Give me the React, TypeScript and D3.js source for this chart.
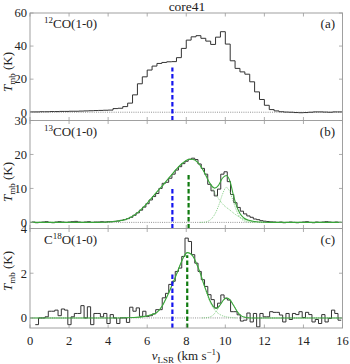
import * as d3 from "d3";

const W = 350;
const H = 364;
const FONT = "'Liberation Serif', 'DejaVu Serif', serif";

const xTicks = [0, 2, 4, 6, 8, 10, 12, 14, 16];

// 12CO(1-0): 0.25 km/s channels starting at 0
const co12Start = 0;
const co12Width = 0.25;
const co12T = [
  0.2, 0.2, 0.3, 0.3, 0.4, 0.4, 0.5, 0.5, 0.6, 0.6, 0.7, 0.8, 0.9, 1.0, 1.1, 1.2,
  1.3, 2.2, 2.4, 3.4, 5.5, 10.5, 17.2, 21.4, 25.5, 27.9, 29.5, 30.1, 30.5, 30.6, 33.0, 38.6,
  43.6, 45.6, 46.3, 44.7, 43.0, 41.0, 45.4, 48.7, 41.2, 31.1, 26.5, 24.4, 23.0, 18.4, 12.3, 7.7,
  4.2, 1.6, 0.8, 0.3, 0.1, 0.0, -0.2, -0.3, -0.2, 0.0, 0.2, 0.2, 0.1, 0.0, 0.2, 0.2,
];

// 13CO(1-0): ~0.166 km/s channels
const co13Start = 0.1;
const co13Width = 1 / 6;
const co13T = [
  0.1, -0.1, 0.0, 0.1, 0.2, 0.0, -0.1, 0.1, 0.2, 0.1, 0.0, 0.1, 0.2, 0.3, 0.1, 0.0,
  0.1, 0.2, 0.0, 0.1, 0.1, 0.2, 0.1, 0.2, 0.2, 0.3, 0.4, 0.6, 0.8, 1.1, 1.5, 2.1,
  2.8, 3.6, 4.5, 5.5, 6.6, 7.6, 8.5, 10.0, 11.5, 11.8, 13.0, 14.2, 15.4, 16.4, 17.3, 18.0,
  18.6, 18.9, 18.5, 17.2, 15.9, 14.2, 11.2, 9.3, 7.8, 9.8, 14.2, 14.9, 12.0, 8.2, 5.8, 4.4,
  3.3, 2.5, 1.9, 1.5, 1.0, 0.8, 0.5, 0.35, 0.25, 0.15, 0.1, 0.0, 0.1, -0.1, 0.0, 0.1,
  0.0, -0.1, 0.0, 0.1, 0.2, 0.0, -0.1, 0.1, 0.0, 0.1, 0.2, 0.1, 0.0, 0.1, 0.0,
];

// C18O(1-0): ~0.166 km/s channels
const c18oStart = 0.27;
const c18oWidth = 1 / 6;
const c18oT = [
  -0.3, 0.0, 0.0, 0.05, 0.3, 0.3, 0.35, 0.1, 0.4, 0.35, -0.3, 0.05, 0.2, 0.2, 0.55, 0.0,
  0.5, -0.3, 0.2, 0.2, 0.05, 0.2, -0.25, 0.15, 0.0, -0.25, 0.0, 0.0, -0.2, 0.48, 0.3, 0.45,
  0.07, 0.3, 0.07, 0.1, 0.18, 0.37, 0.37, 0.9, 1.1, 1.5, 1.64, 2.08, 2.23, 2.75, 3.57, 3.42,
  2.83, 2.45, 2.08, 1.71, 1.41, 1.04, 0.82, 0.45, 0.66, 1.03, 0.88, 0.8, 0.28, 0.28, 0.14, -0.14,
  -0.1, 0.22, -0.18, 0.2, -0.4, 0.2, 0.05, 0.05, 0.28, 0.25, 0.25, 0.13, -0.18, 0.2, -0.07, 0.2,
  0.15, 0.28, 0.02, 0.25, 0.15, -0.18, -0.07, -0.25, 0.15, -0.18, -0.02, 0.35, 0.2, -0.1,
];

// fitted profiles, [v, T]
const co13Fit: [number, number][] = [
  [0, 0], [3.5, 0], [4.0, 0.1], [4.5, 0.4], [5.0, 1.1], [5.5, 2.8], [5.8, 4.4], [6.14, 6.6],
  [6.5, 9.0], [6.8, 10.9], [7.0, 12.3], [7.25, 14.0], [7.5, 15.7], [7.8, 17.4], [8.1, 18.5],
  [8.3, 18.6], [8.6, 17.6], [8.96, 14.4], [9.2, 11.6], [9.45, 10.1], [9.65, 10.9], [9.85, 13.0],
  [10.05, 13.8], [10.25, 11.9], [10.41, 8.1], [10.55, 5.3], [10.75, 2.6], [10.95, 1.3],
  [11.2, 0.6], [11.5, 0.25], [12, 0.05], [12.5, 0], [16, 0],
];
const co13Comp1: [number, number][] = [
  [3.5, 0], [4.0, 0.1], [4.5, 0.4], [5.0, 1.1], [5.5, 2.8], [5.8, 4.4], [6.14, 6.6],
  [6.5, 9.0], [6.8, 10.9], [7.0, 12.3], [7.25, 14.0], [7.5, 15.7], [7.8, 17.4], [8.1, 18.5],
  [8.3, 18.6], [8.6, 17.6], [8.96, 14.2], [9.2, 11.5], [9.45, 8.9], [9.64, 7.1], [9.9, 5.2],
  [10.24, 3.6], [10.5, 2.4], [10.75, 1.5], [11.0, 0.8], [11.26, 0.35], [11.6, 0.1], [12, 0],
];
const co13Comp2: [number, number][] = [
  [8.7, 0], [8.9, 0.05], [9.1, 0.3], [9.3, 1.1], [9.5, 2.8], [9.7, 5.6], [9.85, 8.2], [10.05, 10.3],
  [10.2, 9.4], [10.4, 6.3], [10.55, 3.8], [10.75, 1.5], [10.95, 0.5], [11.2, 0.1], [11.5, 0],
];

const c18oFit: [number, number][] = [
  [0, 0], [4.5, 0], [5.3, 0.02], [5.8, 0.06], [6.2, 0.14], [6.5, 0.25], [6.8, 0.58], [7.0, 0.93],
  [7.25, 1.42], [7.5, 1.95], [7.75, 2.5], [7.9, 2.78], [8.05, 2.92], [8.2, 2.88], [8.35, 2.75],
  [8.5, 2.48], [8.7, 2.05], [8.9, 1.5], [9.05, 1.15], [9.2, 0.8], [9.38, 0.52], [9.55, 0.42],
  [9.75, 0.6], [9.9, 0.8], [10.07, 0.89], [10.25, 0.8], [10.41, 0.58], [10.6, 0.3], [10.75, 0.14],
  [11.0, 0.03], [11.3, 0], [16, 0],
];
const c18oComp1: [number, number][] = [
  [5.3, 0.02], [5.8, 0.06], [6.2, 0.14], [6.5, 0.25], [6.8, 0.58], [7.0, 0.93],
  [7.25, 1.42], [7.5, 1.95], [7.75, 2.5], [7.9, 2.78], [8.05, 2.92], [8.2, 2.88], [8.35, 2.75],
  [8.5, 2.48], [8.7, 2.05], [8.9, 1.5], [9.05, 1.1], [9.2, 0.75], [9.38, 0.45], [9.55, 0.27],
  [9.75, 0.14], [10.0, 0.06], [10.3, 0.02], [10.6, 0],
];
const c18oComp2: [number, number][] = [
  [8.8, 0], [9.0, 0.01], [9.2, 0.04], [9.4, 0.15], [9.6, 0.38], [9.8, 0.66], [9.95, 0.83], [10.07, 0.88],
  [10.2, 0.84], [10.4, 0.6], [10.6, 0.3], [10.8, 0.1], [11.0, 0.03], [11.3, 0],
];

// dashed velocity markers: [v, top T]
const blueV = 7.29;
const blueTop = [27, 10.5, 2.0];
const greenMarks: ([number, number] | null)[] = [null, [8.12, 14.6], [8.05, 2.8]];

const panelIso = ["12", "13", "18"];
const panelLetter = ["(a)", "(b)", "(c)"];
const panelDomain: [number, number][] = [[-5, 60], [-1.8, 30], [-0.45, 4]];
const panelTicks = [[0, 20, 40, 60], [0, 10, 20, 30], [0, 2, 4]];
const panelBox: [number, number][] = [[13, 120.5], [120.5, 228.5], [228.5, 328]];
const yLabelMid = [72, 182, 271];

const hists = [
  { start: co12Start, width: co12Width, vals: co12T },
  { start: co13Start, width: co13Width, vals: co13T },
  { start: c18oStart, width: c18oWidth, vals: c18oT },
];
const fits = [null, { total: co13Fit, comps: [co13Comp1, co13Comp2] }, { total: c18oFit, comps: [c18oComp1, c18oComp2] }];

const x = d3.scaleLinear().domain([0, 16]).range([30, 342.5]);

function Species({ i, yy }: { i: number; yy: number }) {
  const iso = panelIso[i];
  return (
    <text x={44} y={yy} fontSize={13} fontFamily={FONT} fill="#222">
      {i === 2 ? (
        <>
          C<tspan fontSize={9} dy={-5}>{iso}</tspan>
          <tspan dy={5}>O(1-0)</tspan>
        </>
      ) : (
        <>
          <tspan fontSize={9} dy={-5}>{iso}</tspan>
          <tspan dy={5}>CO(1-0)</tspan>
        </>
      )}
    </text>
  );
}

function Panel({ i }: { i: number }) {
  const [top, bottom] = panelBox[i];
  const y = d3.scaleLinear().domain(panelDomain[i]).range([bottom, top]);
  const h = hists[i];
  const pts: [number, number][] = h.vals.map((t, k) => [h.start + k * h.width, t]);
  pts.push([h.start + h.vals.length * h.width, h.vals[h.vals.length - 1]]);
  const step = d3.line<[number, number]>().x((d) => x(d[0])).y((d) => y(d[1])).curve(d3.curveStepAfter);
  const smooth = d3.line<[number, number]>().x((d) => x(d[0])).y((d) => y(d[1])).curve(d3.curveMonotoneX);
  const fit = fits[i];
  const gm = greenMarks[i];
  const [x0, x1] = x.range();
  const tick = 3.5;
  return (
    <g>
      <line x1={x0} x2={x1} y1={y(0)} y2={y(0)} stroke="#777" strokeWidth={0.8} strokeDasharray="1 1.2" />
      <path d={step(pts) ?? ""} fill="none" stroke="#333" strokeWidth={1} />
      {fit &&
        fit.comps.map((c, k) => (
          <path key={k} d={smooth(c) ?? ""} fill="none" stroke="#6cc46c" strokeWidth={0.8} strokeDasharray="1 1" />
        ))}
      {fit && <path d={smooth(fit.total) ?? ""} fill="none" stroke="#3aa53a" strokeWidth={1.1} />}
      <line x1={x(blueV)} x2={x(blueV)} y1={bottom} y2={y(blueTop[i])} stroke="#1515ee" strokeWidth={2.2} strokeDasharray="4.5 2.5" />
      {gm && (
        <line x1={x(gm[0])} x2={x(gm[0])} y1={bottom} y2={y(gm[1])} stroke="#0f7a0f" strokeWidth={2.2} strokeDasharray="4.5 2.5" />
      )}
      <rect x={x0} y={top} width={x1 - x0} height={bottom - top} fill="none" stroke="#a0a0a0" strokeWidth={1} />
      {xTicks.map((t) => (
        <g key={t} stroke="#999" strokeWidth={0.8}>
          <line x1={x(t)} x2={x(t)} y1={bottom} y2={bottom - tick} />
          <line x1={x(t)} x2={x(t)} y1={top} y2={top + tick} />
        </g>
      ))}
      {panelTicks[i].map((t) => (
        <g key={t}>
          <line x1={x0} x2={x0 + tick} y1={y(t)} y2={y(t)} stroke="#999" strokeWidth={0.8} />
          <line x1={x1} x2={x1 - tick} y1={y(t)} y2={y(t)} stroke="#999" strokeWidth={0.8} />
          <text x={27} y={y(t) + 4.3} textAnchor="end" fontSize={12.5} fontFamily={FONT} fill="#222">
            {t}
          </text>
        </g>
      ))}
      <Species i={i} yy={top + 15} />
      <text x={335} y={top + 15} textAnchor="end" fontSize={13} fontFamily={FONT} fill="#222">
        {panelLetter[i]}
      </text>
      <text
        transform={`translate(12,${yLabelMid[i]}) rotate(-90)`}
        textAnchor="middle"
        fontSize={13}
        fontFamily={FONT}
        fill="#222"
      >
        <tspan fontStyle="italic">T</tspan>
        <tspan fontSize={9} dy={3}>mb</tspan>
        <tspan dy={-3}> (K)</tspan>
      </text>
    </g>
  );
}

export default function App() {
  return (
    <svg width={W} height={H} style={{ position: "absolute", left: 0, top: 0, background: "#fff" }}>
      <rect width={W} height={H} fill="#fff" />
      <text x={187} y={11} textAnchor="middle" fontSize={13.5} fontFamily={FONT} fill="#222">
        core41
      </text>
      {[0, 1, 2].map((i) => (
        <Panel key={i} i={i} />
      ))}
      {xTicks.map((t) => (
        <text key={t} x={x(t)} y={344.5} textAnchor="middle" fontSize={12.5} fontFamily={FONT} fill="#222">
          {t}
        </text>
      ))}
      <text x={186} y={359.5} textAnchor="middle" fontSize={13} fontFamily={FONT} fill="#222">
        <tspan fontStyle="italic">v</tspan>
        <tspan fontSize={9} dy={3}>LSR</tspan>
        <tspan dy={-3}> (km s</tspan>
        <tspan fontSize={9} dy={-5}>−1</tspan>
        <tspan dy={5}>)</tspan>
      </text>
    </svg>
  );
}
